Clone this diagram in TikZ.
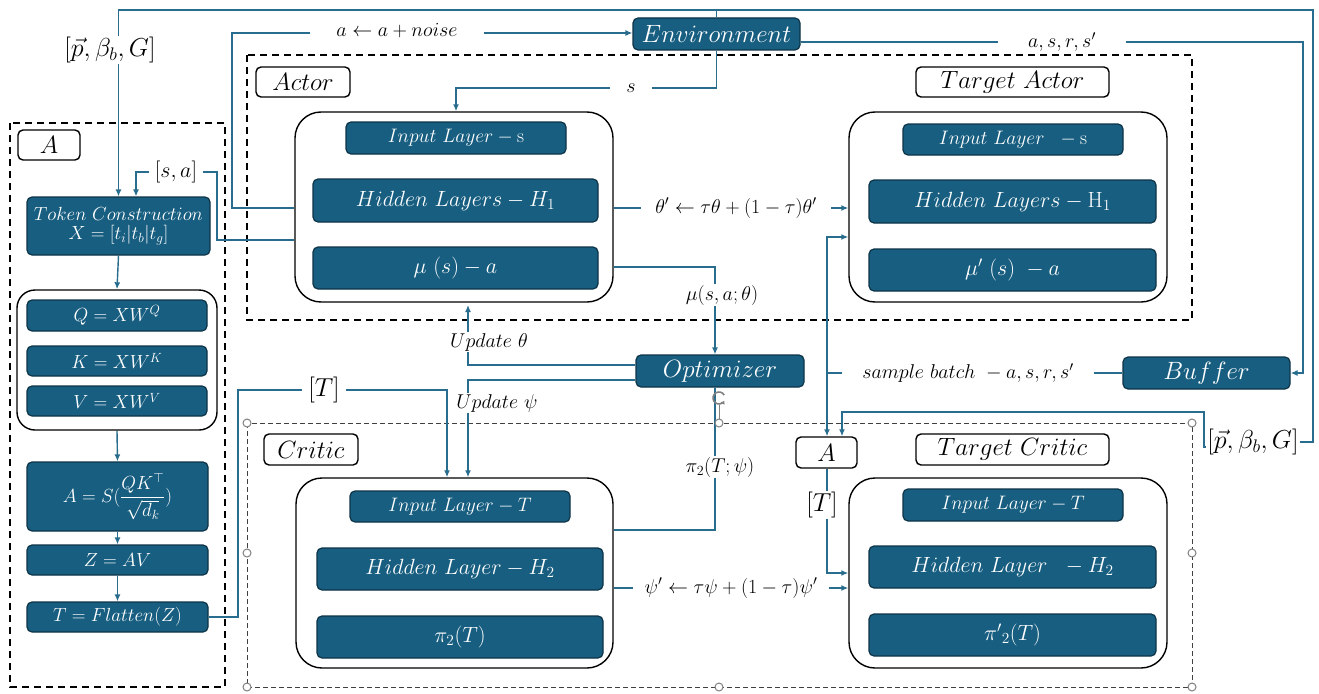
\RequirePackage{fix-cm}
\documentclass[tikz,border=0pt]{standalone}
\usepackage{amsmath}
\usetikzlibrary{arrows.meta}
\definecolor{boxblue}{RGB}{24,94,128}
\definecolor{boxedge}{RGB}{14,52,72}
\definecolor{linecol}{RGB}{40,108,142}
\newcommand{\fsBig}{\fontsize{25}{30}\selectfont}
\newcommand{\fsHid}{\fontsize{22}{26}\selectfont}
\newcommand{\fsIn}{\fontsize{19.5}{23}\selectfont}
\newcommand{\fsLbl}{\fontsize{20}{24}\selectfont}
\newcommand{\fsCol}{\fontsize{19}{22}\selectfont}
\newcommand{\fsBr}{\fontsize{26}{30}\selectfont}
\pgfdeclarelayer{bg}
\pgfsetlayers{bg,main}
\tikzset{
  layer/.style={draw=boxedge, fill=boxblue, line width=1.2pt, rounded corners=5pt, text=white, inner sep=0pt},
  grp/.style={draw=black, line width=1.4pt, rounded corners=26pt, fill=white, inner sep=0pt},
  tag/.style={draw=black, line width=1.4pt, rounded corners=5pt, fill=white, inner sep=0pt, font=\fsBig},
  region/.style={draw=black, line width=1.4pt, dash pattern=on 7pt off 5pt},
  selregion/.style={draw=black!75, line width=0.8pt, dash pattern=on 5pt off 3pt},
  conn/.style={draw=linecol, line width=1.4pt},
  arr/.style={conn, -{Latex[length=7pt,width=6pt]}},
  lbl/.style={fill=white, inner ysep=1pt, inner xsep=10pt, font=\fsLbl},
  handle/.style={circle, draw=gray, fill=white, line width=1pt, minimum size=8pt, inner sep=0pt},
}
\begin{document}
\begin{tikzpicture}[x=1pt,y=1pt]
\useasboundingbox (0,0) rectangle (1319,-693);
\begin{pgfonlayer}{bg}
\fill[white] (0,0) rectangle (1319,-693);
\draw[region] (10,-123) rectangle (225,-687);
\draw[region] (247,-55) rectangle (1192,-320);
\draw[selregion] (247,-423) rectangle (1192,-687);
\end{pgfonlayer}

% ---------- left column (A) ----------
\node[tag, minimum width=62pt, minimum height=30pt] (tagA) at (49,-145) {$A$};
\node[layer, minimum width=183pt, minimum height=58pt, align=center, font=\fsCol] (Token) at (118.5,-226)
  {$Token\ Construction$\\[-3pt]$X=[t_i|t_b|t_g]$};
\node[grp, rounded corners=18pt, minimum width=200pt, minimum height=140pt] (QKV) at (117,-360) {};
\node[layer, minimum width=180pt, minimum height=31pt, font=\fsCol] (Q) at (117,-315.5) {$Q=XW^Q$};
\node[layer, minimum width=180pt, minimum height=30pt, font=\fsCol] (K) at (117,-361) {$K=XW^K$};
\node[layer, minimum width=180pt, minimum height=30pt, font=\fsCol] (V) at (117,-401) {$V=XW^V$};
\node[layer, minimum width=181pt, minimum height=69pt, font=\fsCol] (Abox) at (117.5,-496.5) {$A=S(\dfrac{QK^{\top}}{\sqrt{d_k}})$};
\node[layer, minimum width=181pt, minimum height=30pt, font=\fsCol] (Z) at (117.5,-560) {$Z=AV$};
\node[layer, minimum width=181pt, minimum height=30pt, font=\fsCol] (T) at (117.5,-617) {$T=Flatten(Z)$};

% ---------- actor ----------
\node[tag, minimum width=94pt, minimum height=30pt] (tagActor) at (303,-82) {$Actor$};
\node[tag, minimum width=193pt, minimum height=30pt] (tagTActor) at (1012.5,-82) {$Target\ Actor$};
\node[grp, minimum width=318pt, minimum height=190pt] (ActorG) at (454,-207) {};
\node[layer, minimum width=220pt, minimum height=32pt, font=\fsIn] (InA) at (456,-138) {$Input\ Layer-\mathrm{s}$};
\node[layer, minimum width=285pt, minimum height=43pt, font=\fsHid] (HidA) at (455.5,-200.5) {$Hidden\ Layers-H_1$};
\node[layer, minimum width=285pt, minimum height=42pt, font=\fsHid] (MuA) at (455.5,-268) {$\mu\ (s)-a$};
\node[grp, minimum width=318pt, minimum height=190pt] (TActorG) at (1008,-207) {};
\node[layer, minimum width=220pt, minimum height=31pt, font=\fsIn] (InTA) at (1013,-139.5) {$Input\ Layer\ \ -\mathrm{s}$};
\node[layer, minimum width=287pt, minimum height=43pt, font=\fsHid] (HidTA) at (1012.5,-201.5) {$Hidden\ Layers-\mathrm{H}_1$};
\node[layer, minimum width=287pt, minimum height=42pt, font=\fsHid] (MuTA) at (1012.5,-270) {$\mu'\ (s)\ -a$};

% ---------- critic ----------
\node[tag, minimum width=94pt, minimum height=31pt] (tagCritic) at (311,-449.5) {$Critic$};
\node[tag, minimum width=193pt, minimum height=31pt] (tagTCritic) at (1012.5,-449.5) {$Target\ Critic$};
\node[tag, minimum width=61pt, minimum height=31pt] (smallA) at (826.5,-452.5) {$A$};
\node[grp, minimum width=317pt, minimum height=190pt] (CriticG) at (454.5,-573) {};
\node[layer, minimum width=220pt, minimum height=31pt, font=\fsIn] (InC) at (460,-506.5) {$Input\ Layer-T$};
\node[layer, minimum width=286pt, minimum height=42pt, font=\fsHid] (HidC) at (460,-569) {$Hidden\ Layer-H_2$};
\node[layer, minimum width=286pt, minimum height=42pt, font=\fsHid] (PiC) at (460,-637) {$\pi_2(T)$};
\node[grp, minimum width=318pt, minimum height=190pt] (TCriticG) at (1008,-573) {};
\node[layer, minimum width=220pt, minimum height=32pt, font=\fsIn] (InTC) at (1013,-505) {$Input\ Layer-T$};
\node[layer, minimum width=287pt, minimum height=42pt, font=\fsHid] (HidTC) at (1012.5,-567) {$Hidden\ Layer\ \ -H_2$};
\node[layer, minimum width=287pt, minimum height=42pt, font=\fsHid] (PiTC) at (1012.5,-635) {${\pi'}_2(T)$};

% ---------- env / optimizer / buffer ----------
\node[layer, minimum width=167pt, minimum height=32pt, font=\fsBig] (Env) at (716.5,-34) {$Environment$};
\node[layer, minimum width=168pt, minimum height=32pt, font=\fsBig] (Opt) at (720,-371) {$Optimizer$};
\node[layer, minimum width=167pt, minimum height=32pt, font=\fsBig] (Buffer) at (1206.5,-373) {$Buffer$};

% ---------- labels ----------
\node[lbl, font=\fsBr, inner xsep=2pt] (pg1) at (110,-50) {$[\vec{p},\beta_b,G]$};
\node[lbl, font=\fsBr, inner xsep=1pt] (pg2) at (1253,-442) {$[\vec{p},\beta_b,G]$};
\node[lbl, font=\fontsize{22}{26}\selectfont, inner xsep=6pt] (sa) at (176,-172) {$[s,a]$};
\node[lbl, inner xsep=26pt] (noise) at (397,-31) {$a\leftarrow a+noise$};
\node[lbl, inner xsep=16pt] (sl) at (631,-88) {$s$};
\node[lbl, inner xsep=30pt] (asrs) at (1062,-42) {$a,s,r,s'$};
\node[lbl, inner xsep=14pt] (thp) at (736,-208) {$\theta'\leftarrow\tau\theta+(1-\tau)\theta'$};
\node[lbl, inner xsep=4pt] (mul) at (722,-295) {$\mu(s,a;\theta)$};
\node[lbl, inner xsep=4pt] (upt) at (489,-342) {$Update\ \theta$};
\node[lbl, inner xsep=4pt] (ups) at (497,-403) {$Update\ \psi$};
\node[lbl, font=\fsBr, inner xsep=6pt] (T1) at (324,-390) {$[T]$};
\node[lbl, inner xsep=4pt] (pil) at (720,-467) {$\pi_2(T;\psi)$};
\node[lbl, font=\fsBr, inner xsep=2pt] (T2) at (822,-505) {$[T]$};
\node[lbl, inner xsep=12pt] (psp) at (731,-588) {$\psi'\leftarrow\tau\psi+(1-\tau)\psi'$};
\node[lbl, inner xsep=20pt] (sb) at (968,-373) {$sample\ batch\ -a,s,r,s'$};

% ---------- connectors ----------
\begin{pgfonlayer}{bg}
% left column flow
\draw[arr] (Token.south) -- (QKV.north);
\draw[arr] (QKV.south) -- (Abox.north);
\draw[arr] (Abox.south) -- (Z.north);
\draw[arr] (Z.south) -- (T.north);
% environment state to token construction and target A
\draw[arr] (Env.north) |- (Token.north |- 0,-10) -- (Token.north);
\draw[conn] (Env.north) |- (1313,-10) |- (pg2.east);
\draw[arr] (pg2.west |- 0,-447) -- (1204,-447) |- (842,-412) -- ([xshift=15.5pt]smallA.north);
% [s,a]
\draw[arr] (ActorG.west |- 0,-240) -- (217,-240) |- (136,-172) -- (Token.north -| 136,0);
% noise
\draw[arr] (ActorG.west |- 0,-208) -- (232,-208) |- (Env.west |- 0,-33);
% s
\draw[arr] (Env.south) |- (456,-88) -- (ActorG.north -| 456,0);
% transitions to buffer
\draw[arr] ([yshift=-8pt]Env.east) -- (1303,-42) |- (Buffer.east);
% soft update actor
\draw[arr] (ActorG.east |- 0,-208) -- (TActorG.west |- 0,-208);
% mu to optimizer
\draw[arr] (ActorG.east |- 0,-267) -| (Opt.north -| 715,0);
% update theta
\draw[arr] (Opt.west |- 0,-365) -| (468,-305);
% update psi
\draw[arr] (Opt.west |- 0,-380) -| (CriticG.north -| 468,0);
% T to critic
\draw[arr] (T.east) -- (238,-617) |- (447,-390) -- (CriticG.north -| 447,0);
% critic to optimizer
\draw[conn] (CriticG.east |- 0,-530) -| (Opt.south -| 715,0);
% sample batch
\draw[arr] (Buffer.west) -- (827,-373) |- (TActorG.west |- 0,-237);
\draw[arr] (827,-373) -- (smallA.north -| 827,0);
% A to target critic
\draw[arr] (smallA.south -| 827,0) |- (TCriticG.west |- 0,-573);
% soft update critic
\draw[arr] (CriticG.east |- 0,-588) -- (TCriticG.west |- 0,-588);
\end{pgfonlayer}

% ---------- selection handles ----------
\draw[gray, line width=1pt] (719,-423) -- (719,-405);
\draw[gray, line width=1.6pt, -{Latex[length=3pt,width=5pt]}] (724.2,-395) arc[start angle=30, end angle=330, radius=6pt];
\foreach \hx/\hy in {247/-423, 719/-423, 1192/-423, 247/-553, 1192/-553, 247/-687, 719/-687, 1192/-687}
  \node[handle] at (\hx,\hy) {};
\end{tikzpicture}
\end{document}
